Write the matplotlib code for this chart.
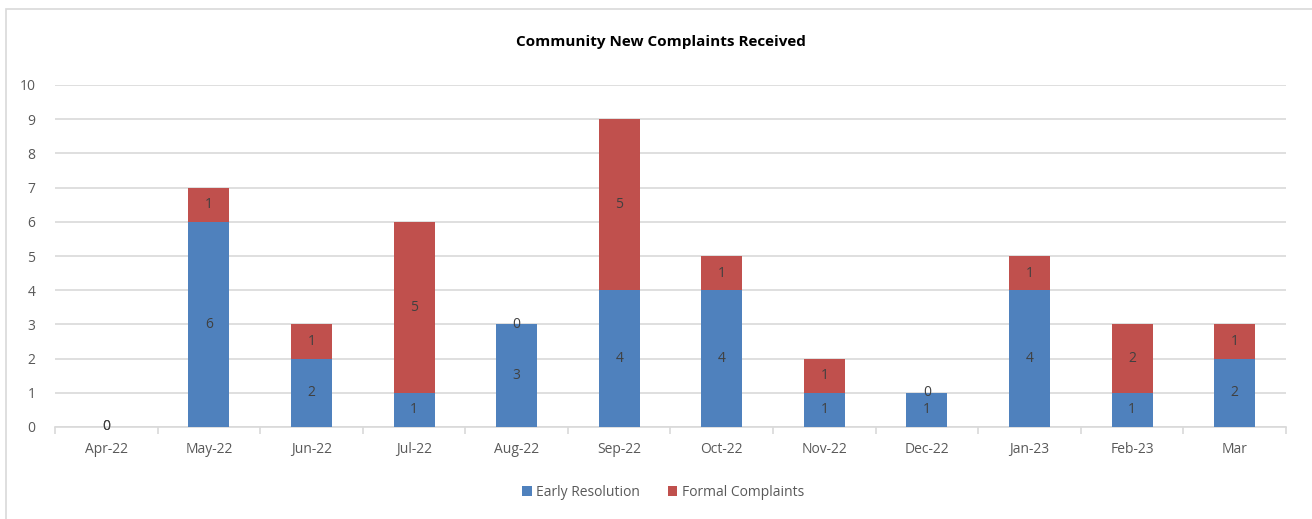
import numpy as np
import matplotlib.pyplot as plt
from matplotlib.patches import Rectangle

months = ['Apr-22', 'May-22', 'Jun-22', 'Jul-22', 'Aug-22', 'Sep-22',
          'Oct-22', 'Nov-22', 'Dec-22', 'Jan-23', 'Feb-23', 'Mar']
early = [0, 6, 2, 1, 3, 4, 4, 1, 1, 4, 1, 2]
formal = [0, 1, 1, 5, 0, 5, 1, 1, 0, 1, 2, 1]

blue = '#4f81bd'
red = '#c0504d'
txt = '#595959'

plt.rcParams['font.family'] = ['Open Sans', 'DejaVu Sans']

W, H = 1312, 519
fig = plt.figure(figsize=(W / 100, H / 100), dpi=100)
# outer chart border (like the spreadsheet chart area)
fig.patches.append(Rectangle((6 / W, -0.1), 1.2, 1 - 9 / H + 0.1, transform=fig.transFigure,
                             fill=False, edgecolor='#d9d9d9', linewidth=1.2))

ax = fig.add_axes([55 / W, 1 - 427 / H, (1286 - 55) / W, (427 - 85) / H])
x = np.arange(len(months))
ax.bar(x, early, width=0.4, color=blue, label='Early Resolution', zorder=3)
ax.bar(x, formal, width=0.4, bottom=early, color=red, label='Formal Complaints', zorder=3)

for i in range(len(months)):
    ax.text(x[i], early[i] / 2, str(early[i]), ha='center', va='center',
            fontsize=10, color='#404040', zorder=4)
    ax.text(x[i], early[i] + formal[i] / 2, str(formal[i]), ha='center', va='center',
            fontsize=10, color='#404040', zorder=4)

ax.set_xlim(-0.5, len(months) - 0.5)
ax.set_ylim(0, 10)
ax.set_yticks(range(0, 11))
ax.set_xticks(x)
ax.set_xticklabels(months)
ax.yaxis.grid(True, color='#d9d9d9', linewidth=1.2, zorder=0)
for s in ['top', 'right', 'left']:
    ax.spines[s].set_visible(False)
ax.spines['bottom'].set_color('#d9d9d9')
ax.spines['bottom'].set_linewidth(1.2)
ax.tick_params(axis='y', length=0, labelsize=10, labelcolor=txt, pad=14)
ax.tick_params(axis='x', length=0, labelsize=10, labelcolor=txt, pad=11)
# minor ticks between categories
ax.set_xticks(np.arange(-0.5, len(months), 1), minor=True)
ax.tick_params(axis='x', which='minor', length=5, color='#d9d9d9', width=1.2, direction='out')

fig.text((55 + 1266) / 2 / W, 1 - 42 / H, 'Community New Complaints Received',
         ha='center', va='center', fontsize=11, fontweight='bold', color='black')

fig.legend(loc='center', bbox_to_anchor=(663 / W, 1 - 492 / H), ncol=2, frameon=False,
           fontsize=10, labelcolor=txt, handlelength=0.7, handleheight=0.7,
           handletextpad=0.3, columnspacing=2.0)

fig.savefig('out.png', dpi=100)
